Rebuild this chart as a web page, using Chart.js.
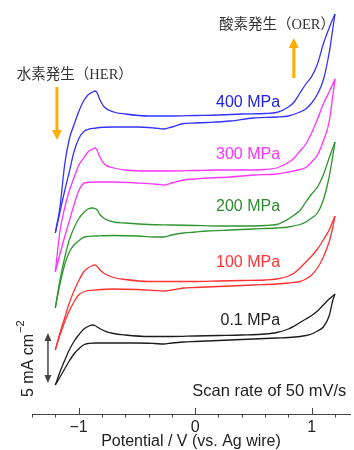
<!DOCTYPE html>
<html><head><meta charset="utf-8">
<script src="https://cdn.jsdelivr.net/npm/chart.js@4.4.1/dist/chart.umd.min.js"></script>
<style>html,body{margin:0;padding:0;background:#fff}canvas{display:block}</style>
</head><body>
<canvas id="c" width="354" height="450"></canvas>
<script>
// ---- data (potential in V vs. Ag wire, current density in mA cm^-2) ----
const pressureLabels = ['0.1 MPa','100 MPa','200 MPa','300 MPa','400 MPa'];
const offsets = [0, 5.5, 11, 16.5, 22];   // vertical stacking offsets, mA cm^-2
const forwardPotential = [-1.2,-1.16,-1.12,-1.08,-1.04,-1.0,-0.96,-0.92,-0.88,-0.86,-0.84,-0.82,-0.78,-0.7,-0.6,-0.4,-0.2,0,0.2,0.4,0.6,0.7,0.8,0.85,0.9,0.95,1.0,1.05,1.1,1.15,1.2];
const reversePotential = [1.2,1.18,1.15,1.1,1.05,1.0,0.95,0.9,0.8,0.7,0.5,0.3,0.1,0,-0.1,-0.2,-0.27,-0.35,-0.5,-0.7,-0.85,-0.95,-1.0,-1.04,-1.08,-1.12,-1.16,-1.2];

const j01Fwd  = [-4.5,-3.2,-2.05,-1.0,-0.15,0.5,1.05,1.35,1.5,1.45,1.3,1.15,0.92,0.65,0.5,0.35,0.35,0.4,0.45,0.5,0.6,0.75,1.1,1.4,1.75,2.1,2.45,2.9,3.5,4.1,4.6];
const j01Rev  = [4.6,3.9,2.4,1.3,0.9,0.6,0.45,0.35,0.25,0.2,0.1,0,-0.1,-0.15,-0.2,-0.3,-0.4,-0.35,-0.3,-0.3,-0.3,-0.45,-0.9,-1.4,-2.1,-2.9,-3.7,-4.5];
const j100Fwd = [-6.5,-4.8,-3.3,-1.8,-0.6,0.4,1.25,1.7,1.95,2.0,1.85,1.55,1.15,0.75,0.55,0.35,0.35,0.35,0.4,0.45,0.5,0.6,0.9,1.2,1.7,2.3,2.9,3.6,4.5,5.5,6.9];
const j100Rev = [6.9,5.7,4.3,2.8,1.7,1.0,0.6,0.35,0.2,0.1,0,-0.1,-0.2,-0.25,-0.3,-0.5,-0.6,-0.55,-0.45,-0.4,-0.5,-0.65,-1.0,-1.7,-2.6,-3.7,-5.0,-6.5];
const j200Fwd = [-7.8,-5.0,-2.8,-1.0,0.2,1.1,1.7,2.1,2.2,2.15,2.0,1.6,1.15,0.8,0.7,0.55,0.5,0.45,0.4,0.4,0.45,0.55,1.1,1.5,1.95,2.8,3.6,4.3,5.5,7.2,8.8];
const j200Rev = [8.8,7.3,5.3,3.0,1.7,1.2,0.8,0.55,0.3,0.2,0.1,0,-0.1,-0.2,-0.3,-0.5,-0.7,-0.7,-0.6,-0.55,-0.6,-0.7,-1.1,-1.5,-2.2,-3.5,-5.4,-7.8];
const j300Fwd = [-9.7,-5.6,-3.3,-1.6,-0.3,0.95,1.65,2.3,2.6,2.7,2.45,1.85,1.1,0.7,0.5,0.4,0.4,0.45,0.5,0.5,0.55,0.7,1.25,1.7,2.4,3.1,4.2,5.6,7.1,8.3,9.6];
const j300Rev = [9.6,7.8,5.3,3.4,2.0,1.3,0.75,0.55,0.3,0.1,0,-0.2,-0.3,-0.4,-0.5,-0.8,-1.0,-0.9,-0.8,-0.7,-0.7,-0.8,-1.6,-3.0,-4.6,-6.2,-7.9,-9.7];
const j400Fwd = [-11.3,-8.7,-4.5,-1.9,-0.5,0.8,1.85,2.5,2.8,2.9,2.7,2.1,1.3,0.8,0.6,0.4,0.4,0.45,0.5,0.6,0.65,0.75,1.3,1.8,2.7,3.6,4.35,5.6,7.6,9.2,10.6];
const j400Rev = [10.6,9.0,6.7,4.0,2.6,1.7,1.1,0.8,0.4,0.3,0.2,-0.1,-0.25,-0.3,-0.35,-0.7,-0.9,-0.8,-0.7,-0.7,-0.8,-1.1,-1.9,-3.2,-5.2,-7.1,-9.2,-11.3];

const majorTicks = [-1, 0, 1];
const minorTicks = [-1.4,-1.2,-0.8,-0.6,-0.4,-0.2,0.2,0.4,0.6,0.8,1.2];
const scaleBarValue = 5; // mA cm^-2

// ---- styling / layout ----
const FONT = '"Liberation Sans", Arial, Helvetica, sans-serif';
const lineColors  = ['#1c1c1c','#ff3030','#2f962f','#ff33ff','#3333ff'];
const labelColors = ['#222222','#ff3333','#2e8b2e','#ff33ff','#2222e6'];
const labelPos = {v: 0.729, rise: [1.9, 2.2, 2.3, 2.0, 1.7]};
const sweeps = [[j01Fwd,j01Rev],[j100Fwd,j100Rev],[j200Fwd,j200Rev],[j300Fwd,j300Rev],[j400Fwd,j400Rev]];

const datasets = [];
pressureLabels.forEach((lab, i) => {
  const [f, r] = sweeps[i];
  const common = {borderColor: lineColors[i], borderWidth: 1.3, pointRadius: 0,
                  cubicInterpolationMode: 'monotone', fill: false};
  datasets.push(Object.assign({label: lab + ' anodic',
    data: f.map((j, k) => ({x: forwardPotential[k], y: offsets[i] + j}))}, common));
  datasets.push(Object.assign({label: lab + ' cathodic',
    data: r.map((j, k) => ({x: reversePotential[k], y: offsets[i] + j}))}, common));
});
datasets.reverse();

function arrowHead(ctx, x, y, dir, w, l) {
  ctx.beginPath();
  ctx.moveTo(x, y);
  ctx.lineTo(x - w/2, y - dir*l);
  ctx.lineTo(x + w/2, y - dir*l);
  ctx.closePath();
  ctx.fill();
}

const annot = {
  id: 'annot',
  afterDraw(chart) {
    const {ctx, scales: {x, y}, chartArea} = chart;
    const px = v => x.getPixelForValue(v), py = v => y.getPixelForValue(v);
    ctx.save();
    // axis tick marks
    const base = chartArea.bottom;
    ctx.strokeStyle = '#444'; ctx.lineWidth = 1;
    majorTicks.forEach(v => { const X = Math.round(px(v)) + 0.5; ctx.beginPath(); ctx.moveTo(X, base - 6); ctx.lineTo(X, base + 1); ctx.stroke(); });
    minorTicks.forEach(v => { const X = Math.round(px(v)) + 0.5; ctx.beginPath(); ctx.moveTo(X, base); ctx.lineTo(X, base + 3.5); ctx.stroke(); });

    // pressure labels
    ctx.font = '16px ' + FONT; ctx.textAlign = 'right'; ctx.textBaseline = 'middle';
    pressureLabels.forEach((t, i) => { ctx.fillStyle = labelColors[i]; ctx.fillText(t, px(labelPos.v), py(offsets[i] + labelPos.rise[i])); });

    // Japanese annotations
    ctx.font = '14.5px "Liberation Serif", "Noto Sans CJK JP", serif';
    ctx.textAlign = 'left'; ctx.fillStyle = '#333';
    ctx.fillText('酸素発生（OER）', px(0.205), py(31.5));
    ctx.fillText('水素発生（HER）', px(-1.53), py(26.5));

    // orange arrows
    ctx.strokeStyle = '#ffae00'; ctx.fillStyle = '#ffae00'; ctx.lineWidth = 3;
    let X = px(0.847), t = py(26.2), h = py(30.2);
    ctx.beginPath(); ctx.moveTo(X, t); ctx.lineTo(X, h + 8); ctx.stroke();
    arrowHead(ctx, X, h, -1, 10, 10);
    X = px(-1.186); t = py(25.3); h = py(20.0);
    ctx.beginPath(); ctx.moveTo(X, t); ctx.lineTo(X, h - 8); ctx.stroke();
    arrowHead(ctx, X, h, 1, 10, 10);

    // scale bar
    ctx.strokeStyle = '#444'; ctx.fillStyle = '#444'; ctx.lineWidth = 1.5;
    X = px(-1.263);
    const top = py(0.7), bot = py(0.7 - scaleBarValue);
    ctx.beginPath(); ctx.moveTo(X, top + 6); ctx.lineTo(X, bot - 6); ctx.stroke();
    arrowHead(ctx, X, top, -1, 7, 8);
    arrowHead(ctx, X, bot, 1, 7, 8);

    // rotated scale bar label
    ctx.save();
    ctx.translate(px(-1.432), py(-5.7));
    ctx.rotate(-Math.PI / 2);
    ctx.fillStyle = '#222'; ctx.textAlign = 'left'; ctx.textBaseline = 'middle';
    ctx.font = '16px ' + FONT;
    const main = scaleBarValue + ' mA cm';
    ctx.fillText(main, 0, 0);
    const w = ctx.measureText(main).width;
    ctx.font = '11px ' + FONT;
    ctx.fillText('\u22122', w + 1, -7);
    ctx.restore();

    // scan-rate note
    ctx.font = '16.5px ' + FONT; ctx.textAlign = 'right'; ctx.textBaseline = 'middle'; ctx.fillStyle = '#222';
    ctx.fillText('Scan rate of 50 mV/s', px(1.297), py(-5.1));
    ctx.restore();
  }
};

new Chart(document.getElementById('c'), {
  type: 'line',
  data: {datasets},
  options: {
    responsive: false, animation: false, devicePixelRatio: 1,
    layout: {padding: {left: 32, right: 0, top: 0, bottom: 0}},
    plugins: {legend: {display: false}, tooltip: {enabled: false}},
    scales: {
      x: {
        type: 'linear', min: -1.4, max: 1.329,
        grid: {display: false, drawTicks: false},
        border: {display: true, color: '#444', width: 1},
        ticks: {
          stepSize: 0.2, autoSkip: false, maxRotation: 0, minRotation: 0, padding: 4,
          color: '#222', font: {family: FONT, size: 16},
          callback: v => {
            const r = Math.round(v);
            if (Math.abs(v - r) > 1e-6) return '';
            return r < 0 ? '\u2212' + Math.abs(r) : String(r);
          }
        },
        title: {display: true, text: 'Potential / V (vs. Ag wire)', color: '#222',
                font: {family: FONT, size: 16, lineHeight: 1}, padding: {top: 0, bottom: 0}},
        afterFit: s => { s.height = 36; }
      },
      y: {type: 'linear', display: false, min: -7.4, max: 34.0}
    }
  },
  plugins: [annot]
});
</script>
</body></html>
